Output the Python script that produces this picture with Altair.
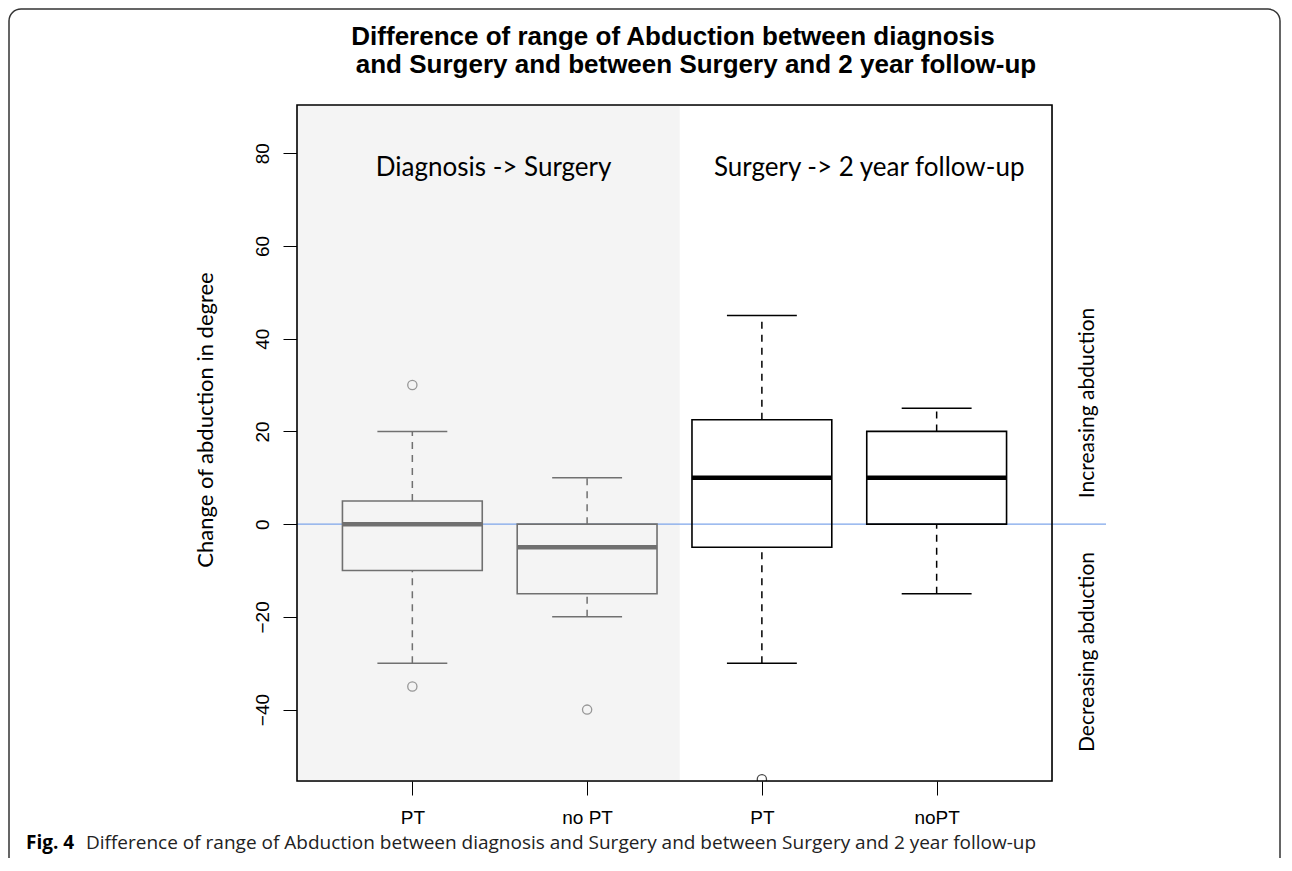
import json
import altair as alt
import pandas as pd

# ---- data ----
labels = ["PT", "no PT", "PT", "noPT"]
periods = ["Diagnosis -> Surgery", "Diagnosis -> Surgery",
           "Surgery -> 2 year follow-up", "Surgery -> 2 year follow-up"]
positions = [1, 2, 3, 4]
lower_whisker = [-30, -20, -30, -15]
q1 = [-10, -15, -5, 0]
medians = [0, -5, 10, 10]
q3 = [5, 0, 22.5, 20]
upper_whisker = [20, 10, 45, 25]

outlier_pos = [1, 1, 2, 3]
outlier_val = [30, -35, -40, -55]
outlier_period = ["Diagnosis -> Surgery", "Diagnosis -> Surgery",
                  "Diagnosis -> Surgery", "Surgery -> 2 year follow-up"]

shade_start = [0.34]
shade_end = [2.53]

y_ticks = [-40, -20, 0, 20, 40, 60, 80]

title_lines = ["Difference of range of Abduction between diagnosis",
               "and Surgery and between Surgery and 2 year follow-up"]
y_title = "Change of abduction in degree"
side_up = "Increasing abduction"
side_down = "Decreasing abduction"
caption_bold = "Fig. 4"
caption_rest = ("Difference of range of Abduction between diagnosis and Surgery "
                "and between Surgery and 2 year follow-up")

# ---- tables ----
boxes = pd.DataFrame({
    "label": labels, "period": periods, "pos": positions,
    "lw": lower_whisker, "q1": q1, "med": medians, "q3": q3, "uw": upper_whisker,
})
outliers = pd.DataFrame({"pos": outlier_pos, "val": outlier_val, "period": outlier_period})
shade = pd.DataFrame({"start": shade_start, "end": shade_end})
one = pd.DataFrame({"k": [0]})

W, H = 755, 676
PAD_L, PAD_T = 289, 97
TOTAL_W, TOTAL_H = 1274, 850

xscale = alt.Scale(domain=[0.34, 4.66], nice=False, zero=False)
yscale = alt.Scale(domain=[-55.4, 90.4], nice=False, zero=False)
period_domain = ["Diagnosis -> Surgery", "Surgery -> 2 year follow-up"]
stroke_scale = alt.Scale(domain=period_domain, range=["#707070", "#000000"])
median_scale = alt.Scale(domain=period_domain, range=["#555555", "#000000"])

label_expr = json.dumps(labels) + "[datum.value - 1]"
xaxis = alt.Axis(values=positions, labelExpr=label_expr, title=None, domain=False,
                 grid=False, tickSize=14, tickColor="black", tickWidth=1,
                 labelFont="Liberation Sans", labelFontSize=19, labelColor="black",
                 labelPadding=13)
yaxis = alt.Axis(values=y_ticks, title=None, domain=False, grid=False, tickSize=14,
                 tickColor="black", tickWidth=1, labelFont="Liberation Sans",
                 labelFontSize=19, labelColor="black", labelAngle=270,
                 labelAlign="center", labelBaseline="alphabetic", labelPadding=15)

def X(field):
    return alt.X(field, type="quantitative", scale=xscale, axis=xaxis)

def Y(field):
    return alt.Y(field, type="quantitative", scale=yscale, axis=yaxis)

shade_layer = alt.Chart(shade).mark_rect(fill="#f4f4f4").encode(
    x=X("start"), x2="end", y=alt.value(0), y2=alt.value(H))

base = alt.Chart(boxes).transform_calculate(
    x_lo="datum.pos - 0.4", x_hi="datum.pos + 0.4",
    c_lo="datum.pos - 0.2", c_hi="datum.pos + 0.2")

stroke_enc = alt.Color("period:N", scale=stroke_scale, legend=None)

box_layer = base.mark_rect(fillOpacity=0, strokeWidth=1.6).encode(
    x=X("x_lo"), x2="x_hi", y=Y("q1"), y2="q3", stroke=stroke_enc)

whisk_up = base.mark_rule(strokeDash=[7, 6], strokeWidth=1.5).encode(
    x=X("pos"), y=Y("q3"), y2="uw", color=stroke_enc)
whisk_dn = base.mark_rule(strokeDash=[7, 6], strokeWidth=1.5).encode(
    x=X("pos"), y=Y("lw"), y2="q1", color=stroke_enc)
cap_up = base.mark_rule(strokeWidth=1.5).encode(
    x=X("c_lo"), x2="c_hi", y=Y("uw"), color=stroke_enc)
cap_dn = base.mark_rule(strokeWidth=1.5).encode(
    x=X("c_lo"), x2="c_hi", y=Y("lw"), color=stroke_enc)

median_layer = base.mark_rule(strokeWidth=4.5).encode(
    x=X("x_lo"), x2="x_hi", y=Y("med"),
    color=alt.Color("period:N", scale=median_scale, legend=None))

zero_line = alt.Chart(one).mark_rule(color="#6f9be8", strokeWidth=1.2, opacity=0.9).encode(
    y=alt.Y(datum=0, type="quantitative", scale=yscale, axis=yaxis),
    x=alt.value(0), x2=alt.value(809))

outlier_layer = alt.Chart(outliers).mark_point(
    shape="circle", filled=False, size=85, strokeWidth=1.3, clip=True).encode(
    x=X("pos"), y=Y("val"), color=stroke_enc)

frame = alt.Chart(one).mark_rect(fillOpacity=0, stroke="black", strokeWidth=1.6).encode(
    x=alt.value(0), x2=alt.value(W), y=alt.value(0), y2=alt.value(H))

header_font = "Lato"
head1 = alt.Chart(one).mark_text(font=header_font, fontSize=26, baseline="alphabetic",
                                 align="center", color="black").encode(
    x=alt.X(datum=1.465, type="quantitative", scale=xscale, axis=xaxis),
    y=alt.Y(datum=75, type="quantitative", scale=yscale, axis=yaxis),
    text=alt.value(periods[0]))
head2 = alt.Chart(one).mark_text(font=header_font, fontSize=26, baseline="alphabetic",
                                 align="center", color="black").encode(
    x=alt.X(datum=3.614, type="quantitative", scale=xscale, axis=xaxis),
    y=alt.Y(datum=75, type="quantitative", scale=yscale, axis=yaxis),
    text=alt.value(periods[2]))

def txt(text, x, y, **kw):
    return alt.Chart(one).mark_text(**kw).encode(
        x=alt.value(x), y=alt.value(y), text=alt.value(text))

title1 = txt(title_lines[0], 376, -68, font="Liberation Sans", fontSize=26,
             fontWeight="bold", align="center", baseline="middle", color="black")
title2 = txt(title_lines[1], 399, -40, font="Liberation Sans", fontSize=26,
             fontWeight="bold", align="center", baseline="middle", color="black")
ytitle = txt(y_title, -91, 315, font=header_font, fontSize=22, angle=270,
             align="center", baseline="middle", color="black")
side1 = txt(side_up, 791, 298, font=header_font, fontSize=21, angle=270,
            align="center", baseline="middle", color="black")
side2 = txt(side_down, 791, 547, font=header_font, fontSize=21, angle=270,
            align="center", baseline="middle", color="black")
cap1 = txt(caption_bold, -271, 738, font="Open Sans", fontSize=19, fontWeight="bold",
           align="left", baseline="middle", color="black")
cap2 = txt(caption_rest, -211, 738, font="Open Sans", fontSize=19,
           align="left", baseline="middle", color="#222222")

border = alt.Chart(one).mark_rect(fillOpacity=0, stroke="#333333", strokeWidth=1.5,
                                  cornerRadius=12).encode(
    x=alt.value(-288), x2=alt.value(TOTAL_W - PAD_L - 2), y=alt.value(-96), y2=alt.value(900))

chart = alt.layer(
    shade_layer, zero_line, box_layer, whisk_up, whisk_dn, cap_up, cap_dn,
    median_layer, outlier_layer, frame, head1, head2,
    title1, title2, ytitle, side1, side2, cap1, cap2, border,
).properties(
    width=W, height=H,
    autosize=alt.AutoSizeParams(type="none"),
    padding={"left": PAD_L, "top": PAD_T, "right": TOTAL_W - PAD_L - W,
             "bottom": TOTAL_H - PAD_T - H},
).configure_view(stroke=None).configure(background="white")

chart.save("out.html", embed_options={"renderer": "svg", "actions": False})
